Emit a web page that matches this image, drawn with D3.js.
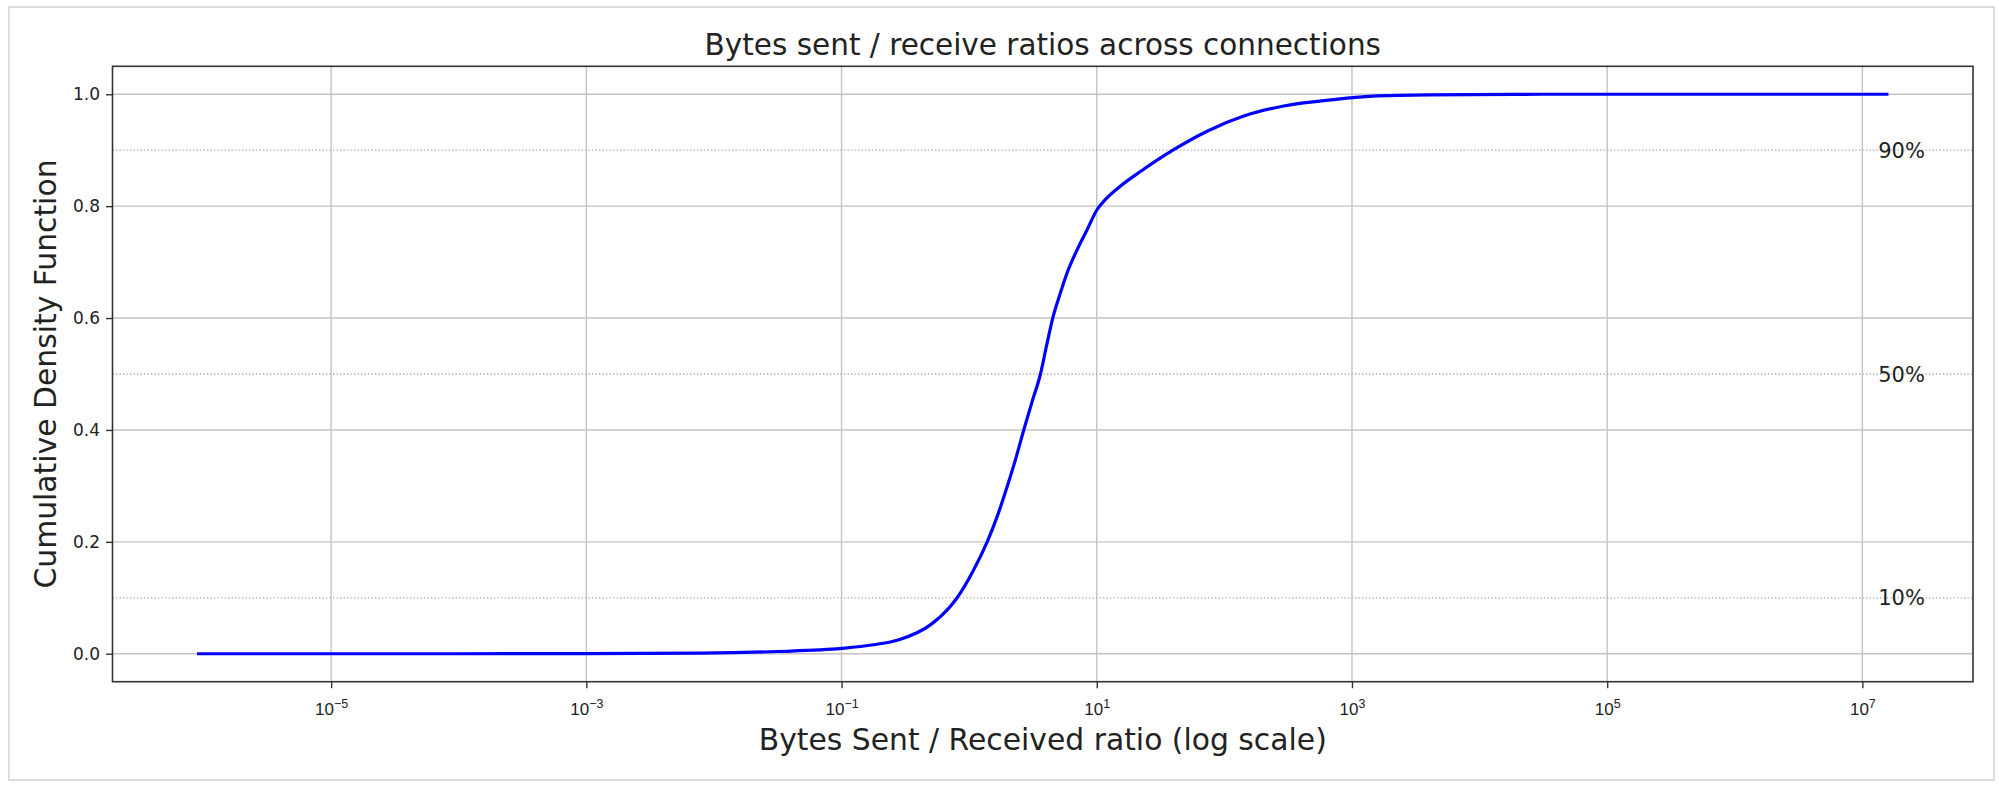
<!DOCTYPE html>
<html>
<head>
<meta charset="utf-8">
<script src="https://cdn.jsdelivr.net/npm/d3@7"></script>
<style>
  html, body { margin: 0; padding: 0; background: #fff; }
  svg { display: block; font-family: "DejaVu Sans", sans-serif; }
</style>
</head>
<body>
<svg id="chart" width="1999" height="793"></svg>
<script>
// ---- data ----
const ratios = [8.9e-7, 1e-4, 1e-3, 0.0079, 0.0316, 0.1, 0.178, 0.282, 0.50, 0.714, 0.805,
                1.086, 1.384, 1.66, 1.986, 2.307, 2.679, 3.119, 3.622, 4.036, 4.52, 5.19,
                5.861, 7.015, 8.414, 10.07, 11.69, 15.35, 22.0, 40.1, 73.3, 142, 292, 719, 1585, 3981, 31623, 1.6e7];
const cdf    = [0, 0, 0.0002, 0.001, 0.004, 0.0095, 0.016, 0.025, 0.052, 0.085, 0.100,
                0.150, 0.200, 0.2455, 0.299, 0.347, 0.400, 0.451, 0.500, 0.550, 0.600, 0.645,
                0.681, 0.722, 0.758, 0.794, 0.812, 0.836, 0.862, 0.901, 0.934, 0.961, 0.979, 0.9905, 0.997, 0.999, 1.0, 1.0];
const xTickValues = [1e-5, 1e-3, 1e-1, 1e1, 1e3, 1e5, 1e7];
const yTickValues = [0, 0.2, 0.4, 0.6, 0.8, 1.0];
const percentLevels = [0.1, 0.5, 0.9];
const percentLabels = ["10%", "50%", "90%"];
const percentLabelX = 1.33e7;

const titleText = "Bytes sent / receive ratios across connections";
const xLabelText = "Bytes Sent / Received ratio (log scale)";
const yLabelText = "Cumulative Density Function";

// ---- layout ----
const W = 1999, H = 793;
const plot = { left: 112.5, right: 1973, top: 66.3, bottom: 681.7 };

const svg = d3.select("#chart");

// outer frame
svg.append("rect").attr("x", 9).attr("y", 7).attr("width", 1985).attr("height", 773)
  .attr("fill", "none").attr("stroke", "#d2d2d2").attr("stroke-width", 1.5);

// scales with matplotlib-style 5% margins
const lmin = Math.log10(d3.min(ratios)), lmax = Math.log10(d3.max(ratios));
const lpad = (lmax - lmin) * 0.05;
const x = d3.scaleLog()
  .domain([Math.pow(10, lmin - lpad), Math.pow(10, lmax + lpad)])
  .range([plot.left, plot.right]);
const y = d3.scaleLinear().domain([-0.05, 1.05]).range([plot.bottom, plot.top]);

// grid
const grid = svg.append("g");
grid.selectAll("line.vx").data(xTickValues).join("line")
  .attr("x1", d => x(d)).attr("x2", d => x(d))
  .attr("y1", plot.top).attr("y2", plot.bottom)
  .attr("stroke", "#c4c4c4").attr("stroke-width", 1.4);
grid.selectAll("line.hy").data(yTickValues).join("line")
  .attr("x1", plot.left).attr("x2", plot.right)
  .attr("y1", d => y(d)).attr("y2", d => y(d))
  .attr("stroke", "#c4c4c4").attr("stroke-width", 1.4);

// percentile reference lines
grid.selectAll("line.pct").data(percentLevels).join("line")
  .attr("x1", plot.left).attr("x2", plot.right)
  .attr("y1", d => y(d)).attr("y2", d => y(d))
  .attr("stroke", "#a8a8a8").attr("stroke-width", 1.3)
  .attr("stroke-dasharray", "1.3,2.2");

// curve
const line = d3.line()
  .x((d, i) => x(ratios[i]))
  .y((d, i) => y(cdf[i]))
  .curve(d3.curveMonotoneX);
svg.append("path").datum(cdf)
  .attr("d", line)
  .attr("fill", "none").attr("stroke", "#0000ff").attr("stroke-width", 3.2)
  .attr("stroke-linejoin", "round").attr("stroke-linecap", "butt");

// percent labels
svg.selectAll("text.pct").data(percentLevels).join("text")
  .attr("x", x(percentLabelX)).attr("y", d => y(d))
  .attr("dy", "0.36em")
  .attr("font-size", 21).attr("fill", "#222")
  .text((d, i) => percentLabels[i]);

// axes
const xAxis = d3.axisBottom(x).tickValues(xTickValues).tickSize(6.5).tickSizeOuter(0).tickPadding(8)
  .tickFormat(() => "");
const gx = svg.append("g").attr("transform", `translate(0,${plot.bottom})`).call(xAxis);
gx.select(".domain").remove();
gx.selectAll(".tick line").attr("stroke", "#333").attr("stroke-width", 1.4);
gx.selectAll(".tick").each(function(d) {
  const e = Math.round(Math.log10(d));
  const t = d3.select(this).append("text")
    .attr("y", 33.5).attr("fill", "#222").attr("font-size", 17)
    .attr("text-anchor", "middle");
  t.append("tspan").text("10");
  t.append("tspan").attr("dy", -7.5).attr("font-size", 12.5).text(e < 0 ? "\u2212" + (-e) : String(e));
});

const yAxis = d3.axisLeft(y).tickValues(yTickValues).tickSize(6.5).tickSizeOuter(0).tickPadding(6)
  .tickFormat(d3.format(".1f"));
const gy = svg.append("g").attr("transform", `translate(${plot.left},0)`).call(yAxis);
gy.select(".domain").remove();
gy.selectAll(".tick line").attr("stroke", "#333").attr("stroke-width", 1.4);
gy.selectAll(".tick text").attr("font-size", 17).attr("fill", "#222")
  .attr("font-family", "DejaVu Sans, sans-serif");

// spines
svg.append("rect").attr("x", plot.left).attr("y", plot.top)
  .attr("width", plot.right - plot.left).attr("height", plot.bottom - plot.top)
  .attr("fill", "none").attr("stroke", "#333").attr("stroke-width", 1.6);

// title & labels
svg.append("text").attr("x", (plot.left + plot.right) / 2).attr("y", 55)
  .attr("text-anchor", "middle").attr("font-size", 29.5).attr("fill", "#222").text(titleText);
svg.append("text").attr("x", (plot.left + plot.right) / 2).attr("y", 750)
  .attr("text-anchor", "middle").attr("font-size", 29.8).attr("fill", "#222").text(xLabelText);
svg.append("text")
  .attr("transform", `translate(56,${(plot.top + plot.bottom) / 2}) rotate(-90)`)
  .attr("text-anchor", "middle").attr("font-size", 29.8).attr("fill", "#222").text(yLabelText);
</script>
</body>
</html>
